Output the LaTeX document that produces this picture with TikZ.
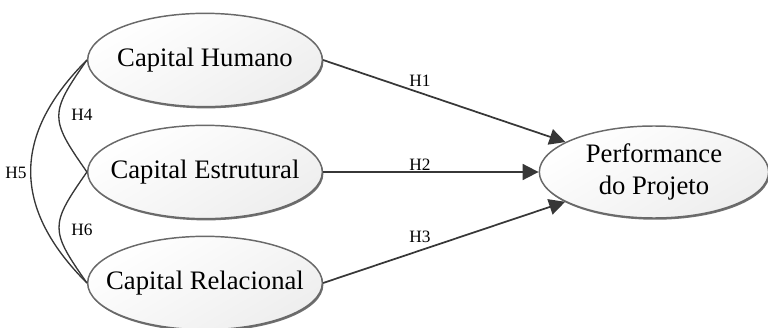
\documentclass[tikz,border=0pt]{standalone}
\usepackage{fontspec}
\setmainfont{Liberation Serif}
\usetikzlibrary{shapes.geometric,arrows.meta,shadows}

\definecolor{lineGray}{RGB}{55,55,55}
\definecolor{rimGray}{RGB}{105,105,105}
\definecolor{fillGray}{RGB}{238,238,238}

\tikzset{every picture/.style={line width=0.75pt}}
\tikzset{
  construct/.style={ellipse, draw=rimGray, line width=1.1pt,
    top color=white, bottom color=fillGray, shading angle=30,
    drop shadow={shadow xshift=0.8pt, shadow yshift=-1.3pt, fill=black!70, opacity=0.8},
    minimum width=176pt, minimum height=70pt, inner sep=0pt,
    label={[font=\fontsize{20}{24}\selectfont, align=center, inner sep=0pt]center:#1}},
  path/.style={draw=lineGray, line width=1.3pt, -{Triangle[length=12pt,width=12pt]}},
  link/.style={draw=lineGray, line width=1pt},
  hlabel/.style={inner sep=0.75pt, font=\fontsize{13}{15}\selectfont}
}

\begin{document}
\begin{tikzpicture}[x=0.75pt,y=0.75pt,yscale=-1,xscale=1]
\useasboundingbox (0,0) rectangle (768,328);

%Constructs
\node [construct={Capital Humano}] (hum) at (205,60) {};
\node [construct={Capital Estrutural}] (est) at (205,172) {};
\node [construct={Capital Relacional}] (rel) at (205,283) {};
\node [construct={Performance\\do Projeto}, minimum width=172pt, minimum height=69pt] (perf) at (654,172) {};

%Structural paths H1--H3
\draw [path] (hum.east) -- (perf);
\draw [path] (est.east) -- (perf.west);
\draw [path] (rel.east) -- (perf);

%Correlations H4--H6 (y axis flipped, so angles are mirrored)
\draw [link] (hum.west) to [out=125,in=235,looseness=1.5] (est.west);
\draw [link] (est.west) to [out=125,in=235,looseness=1.5] (rel.west);
\draw [link] (hum.west) to [out=135,in=225,looseness=1.22] (rel.west);

% Text Node
\node [hlabel] (h1) at (420,81) {H1};
% Text Node
\node [hlabel] (h2) at (420,165) {H2};
% Text Node
\node [hlabel] (h3) at (420,237) {H3};
% Text Node
\node [hlabel] (h4) at (82,115) {H4};
% Text Node
\node [hlabel] (h5) at (16,173) {H5};
% Text Node
\node [hlabel] (h6) at (82,230) {H6};

\end{tikzpicture}
\end{document}
